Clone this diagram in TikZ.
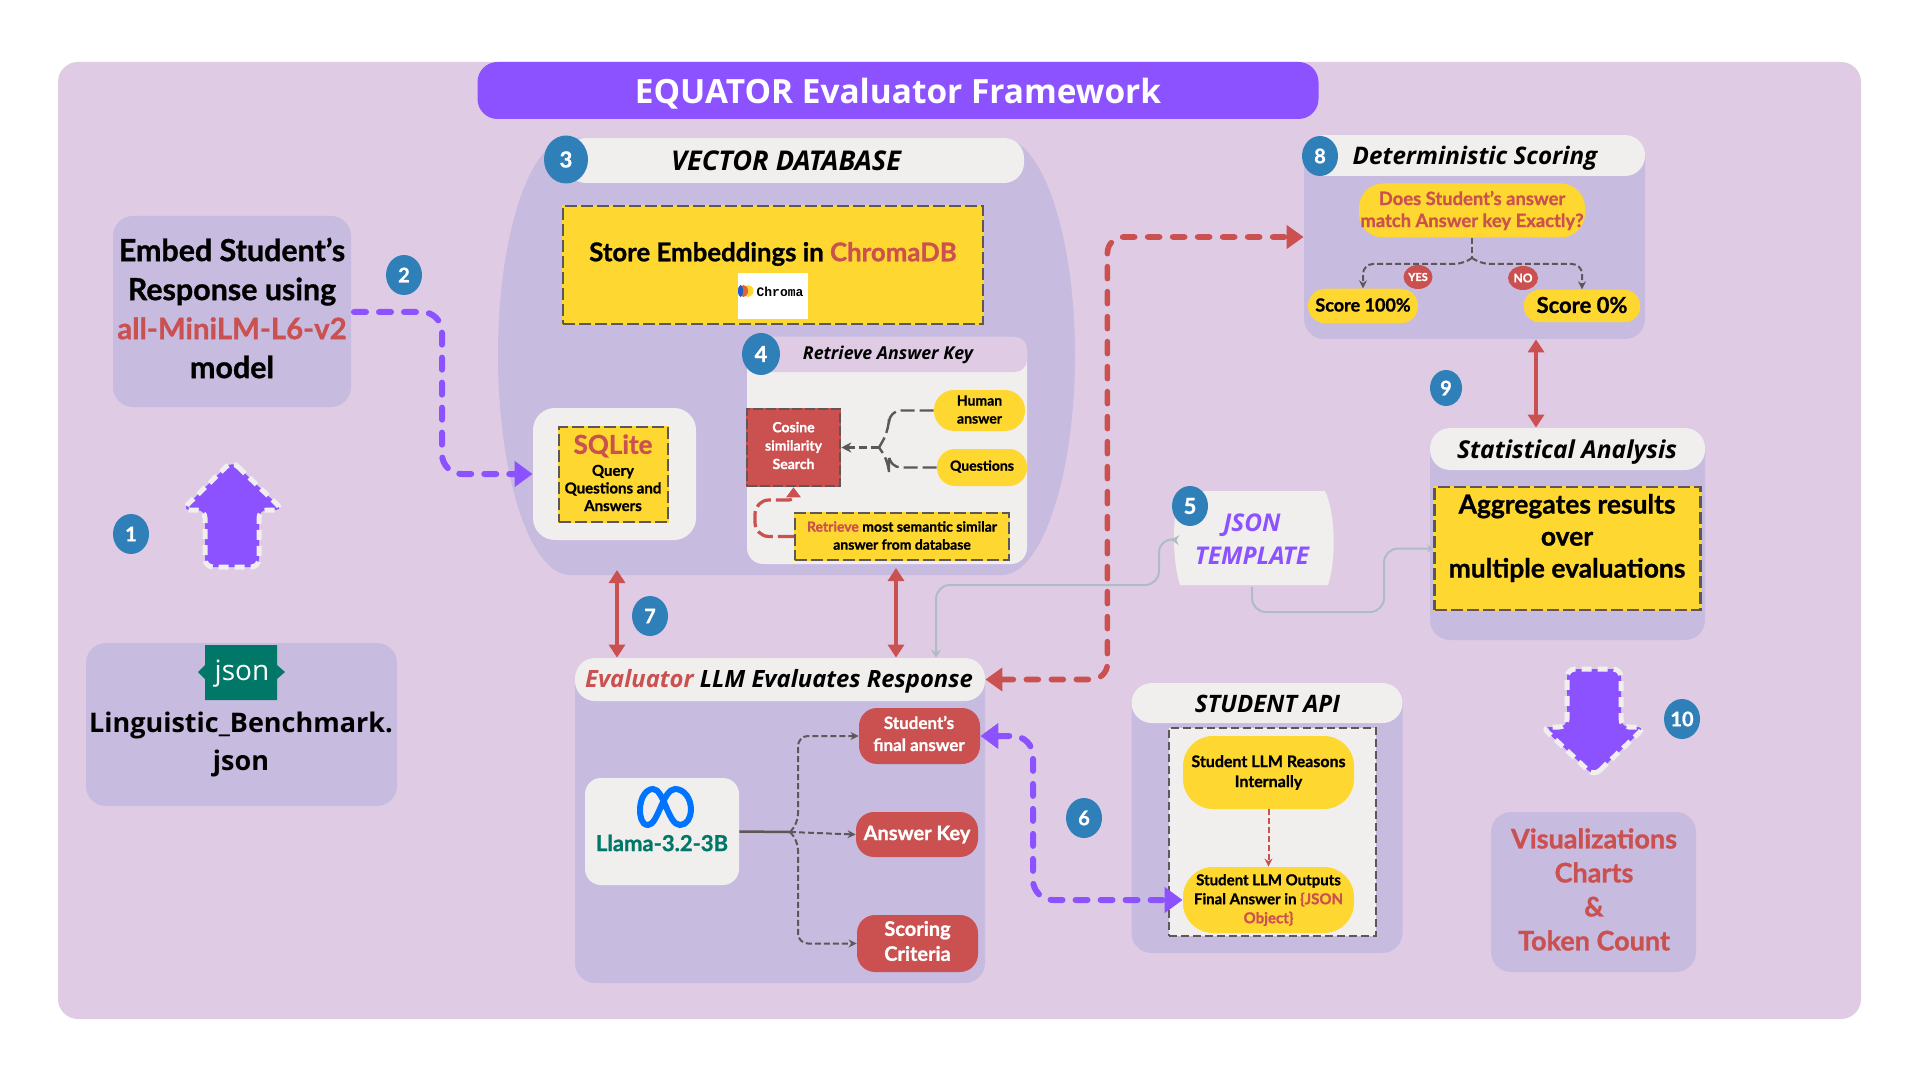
\documentclass[tikz,border=0pt]{standalone}
\usepackage{fontspec}
\setmainfont[BoldFeatures={FakeBold=1}]{Lato}
\newfontfamily\headfont{Open Sans}
\newfontfamily\chromafont{Liberation Mono}
\usetikzlibrary{arrows.meta,shapes.geometric}
\definecolor{lilac}{HTML}{DFCCE4}
\definecolor{mauve}{HTML}{C7BBDF}
\definecolor{paper}{HTML}{F0EFEE}
\definecolor{violet}{HTML}{8C52FF}
\definecolor{coral}{HTML}{CB5050}
\definecolor{sun}{HTML}{FFD731}
\definecolor{ink}{HTML}{5E5757}
\definecolor{steel}{HTML}{2F80B8}
\definecolor{jade}{HTML}{007767}
\definecolor{mist}{HTML}{AEBDC4}
\tikzset{
  sized/.style 2 args={minimum width=#1*0.5pt, minimum height=#2*0.5pt, inner sep=0pt, align=center},
  panel/.style={fill=mauve, rounded corners=10pt},
  head/.style={fill=paper, rounded corners=10pt},
  headtxt/.style={inner sep=0pt, font=\headfont\bfseries\itshape\fontsize{#1}{15}\selectfont},
  small/.style={align=center, inner sep=0pt, font=\bfseries\fontsize{7}{9}\selectfont},
  yelbox/.style={fill=sun, draw=ink, line width=1.25pt, dash pattern=on 6pt off 2pt, preaction={draw=sun, solid}},
  pill/.style={fill=sun, rounded corners=10pt},
  redbox/.style={fill=coral, text=white, rounded corners=9pt},
  badge/.style={ellipse, fill=steel, text=white, sized={36}{40}, font=\bfseries\fontsize{10}{12}\selectfont},
  bigarrow/.style={fill=violet, draw=paper, line width=2.5pt, dash pattern=on 5pt off 3pt, rounded corners=4pt},
  vdash/.style={draw=violet, line width=3pt, line cap=round, dash pattern=on 6pt off 6.5pt, rounded corners=10pt},
  rdash/.style={draw=coral, line width=2.8pt, line cap=round, dash pattern=on 6pt off 6.5pt, rounded corners=8pt},
  twohead/.style={draw=coral, line width=2pt, {Triangle[length=6.5pt,width=8pt]}-{Triangle[length=6.5pt,width=8pt]}},
  tree/.style={draw=ink, line width=1pt, dash pattern=on 3pt off 1.5pt, rounded corners=5pt},
  longtree/.style={draw=ink, line width=1.2pt, dash pattern=on 7pt off 2.5pt, rounded corners=6pt},
  mistline/.style={draw=mist, line width=1pt, rounded corners=7pt}
}
\begin{document}
\begin{tikzpicture}[x=0.5pt,y=-0.5pt]
\fill[white] (0,0) rectangle (1920,1080);
\useasboundingbox (0,0) rectangle (1920,1080);

% Background and title
\fill[lilac, rounded corners=10pt] (58,62) rectangle (1861,1019);
\node[fill=violet, rounded corners=10pt, sized={841}{57}] (title) at (898,90.5) {};
\node[text=white, inner sep=0pt, font=\headfont\bfseries\fontsize{16.7}{20}\selectfont] (titletxt) at (898,94) {EQUATOR Evaluator Framework};

% Left column
\node[panel, sized={238}{191}] (embed) at (232,311.5) {};
\node[align=center, inner sep=0pt, font=\bfseries\fontsize{15.2}{19.5}\selectfont] (embedtxt) at (232,308) {Embed Student’s\\Response using\\\textcolor{coral}{\fontsize{14.7}{19.5}\selectfont all-MiniLM-L6-v2}\\model};
\draw[bigarrow] (232,461) -- (283,510) -- (259,510) -- (259,567) -- (205,567) -- (205,510) -- (182,510) -- cycle;
\node[panel, sized={311}{163}] (bench) at (241.5,724.5) {};
\fill[jade] (205,645) -- (277,645) -- (277,665) -- (285,672) -- (277,679) -- (277,700) -- (205,700) -- (205,679) -- (198,672) -- (205,665) -- cycle;
\node[text=white, inner sep=0pt, font=\headfont\fontsize{14}{16}\selectfont] (benchtag) at (242,674) {json};
\node[align=center, inner sep=0pt, font=\headfont\bfseries\fontsize{13.5}{19}\selectfont] (benchtxt) at (241,744) {Linguistic\_Benchmark.\\json};

% Vector database
\fill[mauve] (570,138) -- (1002,138) .. controls (1042,138) and (1075,235) .. (1075,355) .. controls (1075,475) and (1042,575) .. (1002,575) -- (570,575) .. controls (530,575) and (498,475) .. (498,355) .. controls (498,235) and (530,138) .. (570,138) -- cycle;
\node[head, sized={458}{45}] (vechead) at (795,160.5) {};
\node[headtxt=13.6] (vectxt) at (786,161) {VECTOR DATABASE};
\node[yelbox, sized={420}{118}] (store) at (773,265) {};
\node[inner sep=0pt, font=\bfseries\fontsize{12.9}{16}\selectfont] (storetxt) at (773,254) {Store Embeddings in \textcolor{coral}{ChromaDB}};
\node[fill=white, sized={70}{46}] (chroma) at (773,296) {};
\fill[sun] (748,291) circle[x radius=5.5,y radius=6];
\fill[coral!60!orange] (743.5,291) circle[x radius=4.5,y radius=6];
\fill[steel!70!blue] (740.5,291) circle[x radius=2.5,y radius=6];
\node[inner sep=0pt, font=\chromafont\bfseries\fontsize{6.5}{8}\selectfont] (chromatxt) at (780,292) {Chroma};

\node[fill=paper, rounded corners=11pt, sized={163}{132}] (sqlbox) at (614.5,474) {};
\node[yelbox, sized={109}{95}] (sql) at (613.5,474.5) {};
\node[text=coral, inner sep=0pt, font=\bfseries\fontsize{13}{15}\selectfont] (sqltxt) at (613,446) {SQLite};
\node[align=center, inner sep=0pt, font=\bfseries\fontsize{7.5}{8.8}\selectfont] (sqlsub) at (613,488) {Query\\Questions and\\Answers};

% Retrieve answer key
\node[fill=paper, rounded corners=8pt, sized={280}{227}] (retbox) at (887,450.5) {};
\node[fill=lilac, rounded corners=6pt, sized={280}{35}] (rethead) at (887,354.5) {};
\node[headtxt=8.9] (rettxt) at (888,355) {Retrieve Answer Key};
\node[redbox, rounded corners=0pt, draw=ink, line width=1.25pt, dash pattern=on 5pt off 1.5pt, preaction={draw=coral, solid}, sized={93}{77}] (cosine) at (793.5,447.5) {};
\node[small, text=white, font=\bfseries\fontsize{7}{9.2}\selectfont] (cosinetxt) at (793.5,445.5) {Cosine\\similarity\\Search};
\node[pill, sized={91}{41}] (human) at (979.5,410.5) {};
\node[small] (humantxt) at (979.5,409.5) {Human\\answer};
\node[pill, sized={90}{37}, rounded corners=9pt] (questions) at (982,467.5) {};
\node[small] (questionstxt) at (982,466.5) {Questions};
\node[yelbox, sized={214}{47}] (retrieve) at (902,536.5) {};
\node[small] (retrievetxt) at (902,535.5) {\textcolor{coral}{Retrieve} most semantic similar\\answer from database};
\coordinate (retfork) at (879,447.5);
\draw[longtree] (human.west) -| (889,430) -- (retfork);
\draw[longtree] (questions.west) -| (889,462) -- (retfork);
\draw[draw=ink, line width=1.5pt, dash pattern=on 4pt off 2pt, -{Stealth[length=5pt,width=5pt]}] (retfork) -- (cosine.east);
\draw[draw=coral, line width=1.6pt, dash pattern=on 8pt off 2.5pt, rounded corners=7pt, -{Triangle[length=5pt,width=7pt]}] (retrieve.west) -- (755,536.5) -- (755,500) [rounded corners=2pt] -- (793.5,500) -- (cosine.south);

% Evaluator
\node[panel, sized={410}{325}] (evalpanel) at (780,820.5) {};
\node[head, sized={410}{43}] (evalhead) at (780,679.5) {};
\node[headtxt=11.9] (evaltxt) at (779,681.5) {\textcolor{coral}{Evaluator} LLM Evaluates Response};
\node[fill=paper, rounded corners=8pt, sized={154}{107}] (llama) at (662,831.5) {};
\draw[draw=blue!55!cyan, line width=3pt] (648,825) .. controls (641,825) and (640,815) .. (640,810) .. controls (640,798) and (646,789) .. (653,789) .. controls (664,789) and (668,825) .. (680,825) .. controls (687,825) and (691,817) .. (691,810) .. controls (691,798) and (684,789) .. (675,789) .. controls (663,789) and (658,825) .. (648,825) -- cycle;
\node[text=jade, inner sep=0pt, font=\bfseries\fontsize{11}{13}\selectfont] (llamatxt) at (662,843) {Llama-3.2-3B};
\node[redbox, sized={121}{56}] (final) at (919.5,736) {};
\node[text=white, align=center, inner sep=0pt, font=\bfseries\fontsize{8.5}{11}\selectfont] (finaltxt) at (919,733.5) {Student’s\\final answer};
\node[redbox, sized={122}{45}, font=\bfseries\fontsize{10}{12}\selectfont] (anskey) at (917,834.5) {Answer Key};
\node[redbox, sized={121}{57}] (scoring) at (917.5,943.5) {};
\node[text=white, align=center, inner sep=0pt, font=\bfseries\fontsize{10}{12.5}\selectfont] (scoringtxt) at (917.5,941) {Scoring\\Criteria};
\coordinate (llamafork) at (790,832);
\draw[draw=ink, line width=1.25pt] (llama.east) -- (llamafork);
\draw[tree, -{Stealth[length=4pt,width=4pt]}] (llamafork) -- (798,824) |- (final.west);
\draw[tree, -{Stealth[length=4pt,width=4pt]}] (llamafork) -- (anskey.west);
\draw[tree, -{Stealth[length=4pt,width=4pt]}] (llamafork) -- (798,840) |- (scoring.west);

% Student API
\node[panel, sized={271}{270}] (apipanel) at (1267,818) {};
\node[head, sized={271}{40}] (apihead) at (1267,703) {};
\node[headtxt=12] (apitxt) at (1267.5,703.5) {STUDENT API};
\node[fill=paper, draw=ink, line width=1.25pt, dash pattern=on 4pt off 2pt, sized={207}{208}] (apibox) at (1272.5,832) {};
\node[pill, rounded corners=15pt, sized={171}{73}, font=\bfseries\fontsize{8}{10}\selectfont] (reason) at (1268.5,772.5) {Student LLM Reasons\\Internally};
\node[pill, rounded corners=15pt, sized={171}{66}, font=\bfseries\fontsize{7.5}{9.5}\selectfont] (output) at (1268.5,900) {Student LLM Outputs\\Final Answer in \textcolor{coral}{\{JSON}\\\textcolor{coral}{Object\}}};
\draw[draw=coral, line width=1pt, dash pattern=on 3pt off 1.5pt, -{Stealth[length=4pt,width=4pt]}] (reason.south) -- (output.north);

% Deterministic scoring
\node[panel, sized={341}{204}] (detpanel) at (1474.5,237) {};
\node[head, sized={341}{41}] (dethead) at (1474.5,155.5) {};
\node[headtxt=12.1] (dettxt) at (1475,158) {Deterministic Scoring};
\node[pill, rounded corners=12pt, sized={226}{54}, text=coral, font=\bfseries\fontsize{9.2}{11}\selectfont] (question) at (1472,210.5) {Does Student’s answer\\match Answer key Exactly?};
\node[pill, sized={110}{34.5}, rounded corners=8.5pt] (pass) at (1363,306) {};
\node[inner sep=0pt, font=\bfseries\fontsize{9}{11}\selectfont] (passtxt) at (1363,305) {Score 100\%};
\node[pill, sized={116.5}{32.5}, rounded corners=8pt] (fail) at (1582,306) {};
\node[inner sep=0pt, font=\bfseries\fontsize{11}{12}\selectfont] (failtxt) at (1582,305) {Score 0\%};
\coordinate (detfork) at (1472,258);
\draw[tree] (question.south) -- (detfork);
\draw[tree, -{Stealth[length=4pt,width=4pt]}] (detfork) -- (1464,264) -| (pass.north);
\draw[tree, -{Stealth[length=4pt,width=4pt]}] (detfork) -- (1480,264) -| (fail.north);
\node[ellipse, fill=coral, text=white, sized={29}{24}, font=\bfseries\fontsize{5.5}{7}\selectfont] (yes) at (1418,277) {YES};
\node[ellipse, fill=coral, text=white, sized={30}{24}, font=\bfseries\fontsize{6}{7}\selectfont] (no) at (1523,278) {NO};

% Statistical analysis
\node[panel, sized={275}{212}] (statpanel) at (1567.5,534) {};
\node[head, sized={275}{42}] (stathead) at (1567.5,449) {};
\node[headtxt=12.3] (stattxt) at (1567,452) {Statistical Analysis};
\node[yelbox, sized={266}{123}] (aggr) at (1567.5,548.5) {};
\node[align=center, inner sep=0pt, font=\bfseries\fontsize{13.2}{16}\selectfont] (aggrtxt) at (1567,538) {Aggregates results\\over\\multiple evaluations};

% JSON template
\fill[paper] (1185,491) -- (1325,491) .. controls (1336,515) and (1336,560) .. (1328,585) -- (1180,585) .. controls (1172,560) and (1172,515) .. (1180,491) -- cycle;
\node[sized={161}{94}, text=violet, font=\headfont\bfseries\itshape\fontsize{12.2}{16.5}\selectfont] (tpl) at (1252,539.5) {JSON\\TEMPLATE};

% Output column
\draw[bigarrow] (1594,776) -- (1645,727) -- (1621,727) -- (1621,669) -- (1567,669) -- (1567,727) -- (1542,727) -- cycle;
\node[panel, sized={205}{160}] (vis) at (1593.5,892) {};
\node[text=coral, align=center, inner sep=0pt, font=\bfseries\fontsize{13.5}{17}\selectfont] (vistxt) at (1594,889.5) {Visualizations\\Charts\\\&\\Token Count};

% Connectors
\coordinate (graydrop) at (936,585);
\draw[mistline, {Stealth[length=4pt,width=5pt]}-{Stealth[length=4pt,width=5pt]}] (tpl.west) -- (1159,538.5) |- (graydrop) -- (graydrop |- evalhead.north);
\draw[mistline, -{Stealth[length=3pt,width=4pt]}] (tpl.south) |- (1384,612) |- (aggr.west);
\coordinate (embedout) at (354,312);
\draw[vdash, -{Triangle[length=9pt,width=12.5pt]}] (embedout) -- (442,312) |- (sqlbox.west);
\draw[vdash, {Triangle[length=9pt,width=12.5pt]}-{Triangle[length=9pt,width=12.5pt]}] (final.east) -- (1033,736) |- (output.west);
\draw[rdash, {Triangle[length=8.5pt,width=11.5pt]}-{Triangle[length=8.5pt,width=11.5pt]}] (evalhead.east) -- ++(122,0) |- (detpanel.west);
\coordinate (dbleft) at (617,570);
\coordinate (dbright) at (896,568);
\draw[twohead] (dbleft) -- (dbleft |- evalhead.north);
\draw[twohead] (dbright) -- (dbright |- evalhead.north);
\draw[twohead] (detpanel.south -| 1536,0) -- (stathead.north -| 1536,0);

% Numbered badges
\node[badge] (b1) at (131,534) {1};
\node[badge] (b2) at (404,275) {2};
\node[badge, sized={44}{48}, font=\bfseries\fontsize{11}{13}\selectfont] (b3) at (566,159.5) {3};
\node[badge, sized={38}{42}, font=\bfseries\fontsize{11}{13}\selectfont] (b4) at (761,354) {4};
\node[badge, font=\bfseries\fontsize{11}{13}\selectfont] (b5) at (1190,506) {5};
\node[badge] (b6) at (1084,818) {6};
\node[badge] (b7) at (650,616) {7};
\node[badge] (b8) at (1320,156) {8};
\node[badge, sized={32}{36}] (b9) at (1446,388) {9};
\node[badge] (b10) at (1682,719) {10};
\end{tikzpicture}
\end{document}
